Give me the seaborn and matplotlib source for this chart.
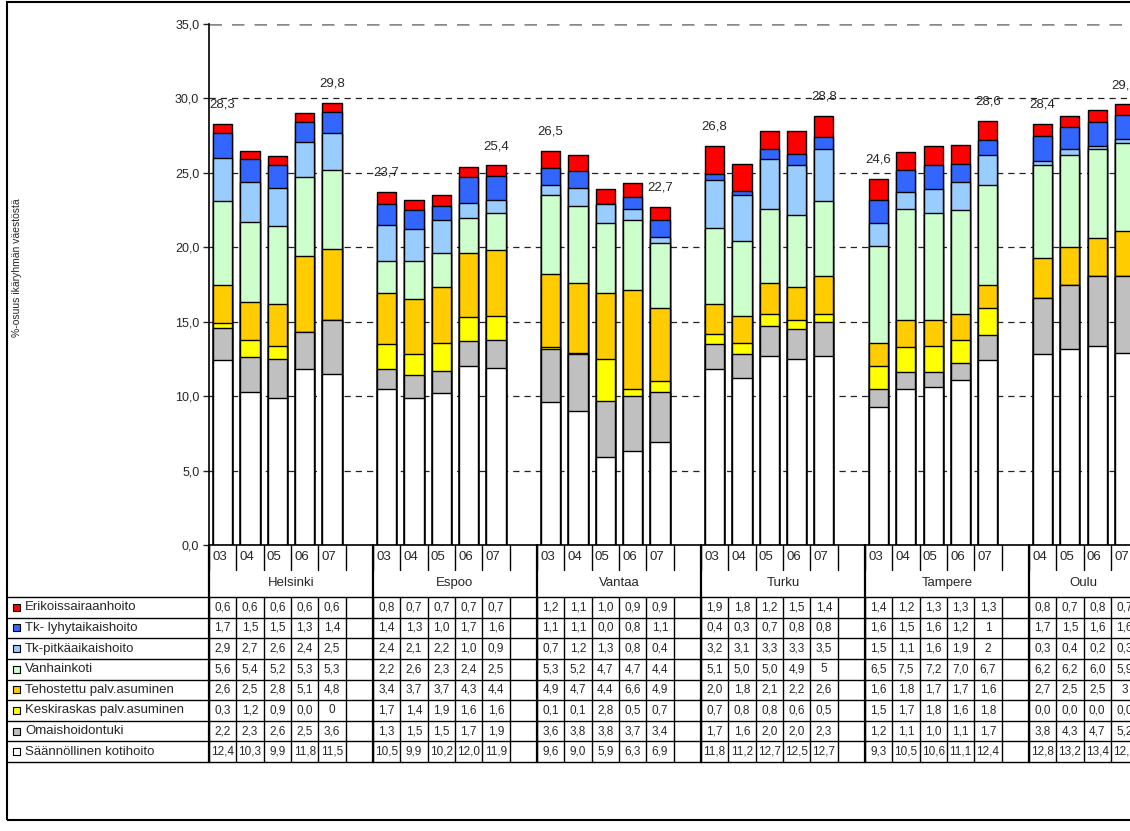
import pandas as pd
import seaborn as sns
import matplotlib.pyplot as plt
from matplotlib.patches import Rectangle
from matplotlib.ticker import FuncFormatter

# Data (values in % of age group population)
cities = ['Helsinki', 'Espoo', 'Vantaa', 'Turku', 'Tampere', 'Oulu']
years = [['03', '04', '05', '06', '07'],
         ['03', '04', '05', '06', '07'],
         ['03', '04', '05', '06', '07'],
         ['03', '04', '05', '06', '07'],
         ['03', '04', '05', '06', '07'],
         ['04', '05', '06', '07']]

series = ['Erikoissairaanhoito', 'Tk- lyhytaikaishoito', 'Tk-pitkäaikaishoito',
          'Vanhainkoti', 'Tehostettu palv.asuminen', 'Keskiraskas palv.asuminen',
          'Omaishoidontuki', 'Säännöllinen kotihoito']
colors = ['#FF0000', '#3366FF', '#99CCFF', '#CCFFCC', '#FFCC00', '#FFFF00',
          '#C0C0C0', '#FFFFFF']

erikois = [0.6, 0.6, 0.6, 0.6, 0.6, 0.8, 0.7, 0.7, 0.7, 0.7, 1.2, 1.1, 1.0, 0.9, 0.9,
           1.9, 1.8, 1.2, 1.5, 1.4, 1.4, 1.2, 1.3, 1.3, 1.3, 0.8, 0.7, 0.8, 0.7]
tk_lyhyt = [1.7, 1.5, 1.5, 1.3, 1.4, 1.4, 1.3, 1.0, 1.7, 1.6, 1.1, 1.1, 0.0, 0.8, 1.1,
            0.4, 0.3, 0.7, 0.8, 0.8, 1.6, 1.5, 1.6, 1.2, 1, 1.7, 1.5, 1.6, 1.6]
tk_pitka = [2.9, 2.7, 2.6, 2.4, 2.5, 2.4, 2.1, 2.2, 1.0, 0.9, 0.7, 1.2, 1.3, 0.8, 0.4,
            3.2, 3.1, 3.3, 3.3, 3.5, 1.5, 1.1, 1.6, 1.9, 2, 0.3, 0.4, 0.2, 0.3]
vanhainkoti = [5.6, 5.4, 5.2, 5.3, 5.3, 2.2, 2.6, 2.3, 2.4, 2.5, 5.3, 5.2, 4.7, 4.7, 4.4,
               5.1, 5.0, 5.0, 4.9, 5, 6.5, 7.5, 7.2, 7.0, 6.7, 6.2, 6.2, 6.0, 5.9]
tehostettu = [2.6, 2.5, 2.8, 5.1, 4.8, 3.4, 3.7, 3.7, 4.3, 4.4, 4.9, 4.7, 4.4, 6.6, 4.9,
              2.0, 1.8, 2.1, 2.2, 2.6, 1.6, 1.8, 1.7, 1.7, 1.6, 2.7, 2.5, 2.5, 3]
keskiraskas = [0.3, 1.2, 0.9, 0.0, 0, 1.7, 1.4, 1.9, 1.6, 1.6, 0.1, 0.1, 2.8, 0.5, 0.7,
               0.7, 0.8, 0.8, 0.6, 0.5, 1.5, 1.7, 1.8, 1.6, 1.8, 0.0, 0.0, 0.0, 0.0]
omais = [2.2, 2.3, 2.6, 2.5, 3.6, 1.3, 1.5, 1.5, 1.7, 1.9, 3.6, 3.8, 3.8, 3.7, 3.4,
         1.7, 1.6, 2.0, 2.0, 2.3, 1.2, 1.1, 1.0, 1.1, 1.7, 3.8, 4.3, 4.7, 5.2]
kotihoito = [12.4, 10.3, 9.9, 11.8, 11.5, 10.5, 9.9, 10.2, 12.0, 11.9, 9.6, 9.0, 5.9, 6.3, 6.9,
             11.8, 11.2, 12.7, 12.5, 12.7, 9.3, 10.5, 10.6, 11.1, 12.4, 12.8, 13.2, 13.4, 12.9]

# totals written above first and last bar of each city
shown_totals = [28.3, 29.8, 23.7, 25.4, 26.5, 22.7, 26.8, 28.8, 24.6, 28.6, 28.4, 29.6]

values = [erikois, tk_lyhyt, tk_pitka, vanhainkoti, tehostettu, keskiraskas, omais, kotihoito]


def fmt(v):
    if isinstance(v, int):
        return str(v)
    return f"{v:.1f}".replace('.', ',')


# slot positions: one slot per year, blank slot between cities
pos, city_col, year_col, groups = [], [], [], []
slot = 0
for i, c in enumerate(cities):
    start = slot
    for y in years[i]:
        pos.append(slot)
        city_col.append(c)
        year_col.append(y)
        slot += 1
    if i < len(cities) - 1:
        slot += 1
    groups.append((c, start, slot))
n_slots = slot

df = pd.DataFrame({'pos': pos, 'city': city_col, 'year': year_col})
for name, vals in zip(series, values):
    df[name] = vals
cum = df[series[::-1]].cumsum(axis=1)
for name in series:
    df['cum_' + name] = cum[name]

sns.set_style('white')
plt.rcParams['font.family'] = ['Liberation Sans', 'DejaVu Sans']

W, H = 1130, 831
fig = plt.figure(figsize=(W / 100, H / 100), dpi=100)
slot_px = 27.33
ax_left, ax_top, ax_bot = 209, 24, 545
ax = fig.add_axes([ax_left / W, 1 - ax_bot / H, n_slots * slot_px / W, (ax_bot - ax_top) / H])

# stacked bars: draw cumulative totals from the top layer down
for name, col in zip(series, colors):
    sns.barplot(data=df, x='pos', y='cum_' + name, native_scale=True, orient='x',
                color=col, saturation=1, edgecolor='black', linewidth=1,
                width=0.7, errorbar=None, ax=ax, zorder=2)

ax.set_xlim(-0.5, n_slots - 0.5)
ax.set_ylim(0, 35)
ax.set_xticks([])
ax.set_xlabel('')
ax.set_ylabel('')
ax.set_yticks(range(0, 36, 5))
ax.yaxis.set_major_formatter(FuncFormatter(lambda v, p: f"{v:.1f}".replace('.', ',')))
ax.tick_params(axis='y', direction='out', length=4, width=1, labelsize=9, pad=3, left=True)
ax.set_axisbelow(True)
ax.yaxis.grid(True, linestyle=(0, (5, 4)), color='#222222', linewidth=0.9)
ax.get_ygridlines()[-1].set_color('#888888')
ax.get_ygridlines()[-1].set_linewidth(1.8)
for s in ['top', 'right']:
    ax.spines[s].set_visible(False)
ax.spines['left'].set_color('black')
ax.spines['bottom'].set_color('black')
ax.spines['left'].set_linewidth(1.2)
ax.spines['bottom'].set_linewidth(1.2)

# total labels
label_rows = []
for c in cities:
    sub = df[df['city'] == c]
    label_rows += [sub.index[0], sub.index[-1]]
for idx, txt in zip(label_rows, shown_totals):
    top = df.loc[idx, 'cum_' + series[0]]
    ax.text(df.loc[idx, 'pos'], top + 1.3, fmt(txt), ha='center', va='center', fontsize=9.5)

# data table under the chart
tab_bot = 762
tab = fig.add_axes([ax_left / W, 1 - tab_bot / H, n_slots * slot_px / W, (tab_bot - ax_bot) / H])
tab.set_xlim(-0.5, n_slots - 0.5)
tab.set_ylim(tab_bot - ax_bot, 0)
tab.axis('off')


def px_x(px):
    return (px - ax_left) / slot_px - 0.5


row_top = 52
row_h = (tab_bot - ax_bot - row_top) / len(series)
line_kw = dict(color='black', linewidth=1, clip_on=False)

for k in range(len(series) + 1):
    y = row_top + k * row_h
    tab.plot([px_x(8), n_slots - 0.5], [y, y], **line_kw)
for b in range(n_slots + 1):
    tab.plot([b - 0.5, b - 0.5], [row_top, row_top + len(series) * row_h], **line_kw)
    tab.plot([b - 0.5, b - 0.5], [0, 25], **line_kw)
for c, s0, s1 in groups:
    tab.plot([s0 - 0.5, s0 - 0.5], [0, row_top + len(series) * row_h],
             color='black', linewidth=1.6, clip_on=False)
    tab.text((s0 + s1) / 2 - 0.5, 38, c, ha='center', va='center', fontsize=9.5)

for p, y in zip(df['pos'], df['year']):
    tab.text(p - 0.38, 12.5, y, ha='left', va='center', fontsize=9.5)

for k, (name, col, vals) in enumerate(zip(series, colors, values)):
    yc = row_top + (k + 0.5) * row_h
    tab.add_patch(Rectangle((px_x(13), yc - 3.5), 7 / slot_px, 7, facecolor=col,
                            edgecolor='black', linewidth=0.8, clip_on=False))
    tab.text(px_x(25), yc, name, ha='left', va='center', fontsize=9.5, clip_on=False)
    for p, v in zip(df['pos'], vals):
        tab.text(p, yc, fmt(v), ha='center', va='center', fontsize=8.5)

fig.text(17 / W, 1 - 268 / H, '%-osuus ikäryhmän väestöstä', rotation=90,
         ha='center', va='center', fontsize=7.5)

# chart frame
fig.patches.append(Rectangle((7 / W, 1 - 820 / H), 1.1, (820 - 2) / H, transform=fig.transFigure,
                             fill=False, edgecolor='black', linewidth=1.5))

fig.savefig('out.png', dpi=100)
